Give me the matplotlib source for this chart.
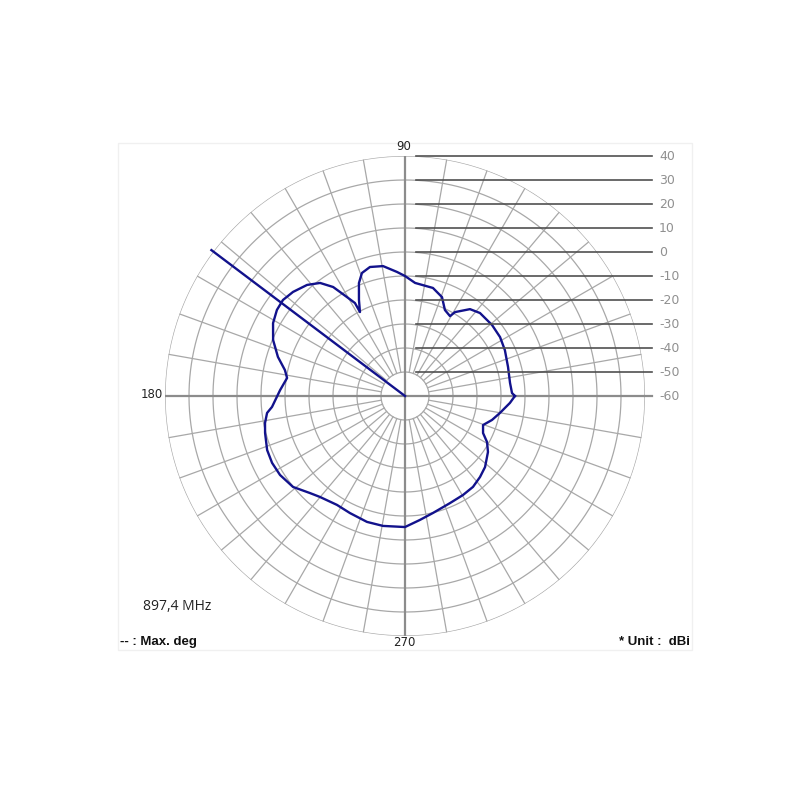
import numpy as np
import matplotlib
matplotlib.use("Agg")
import matplotlib.pyplot as plt

# antenna pattern, angle in degrees (0 = right, ccw) and gain in dBi
angles = [0, 1.6, 7.1, 15.7, 24.7, 31.8, 39.2, 47.9, 53.2, 59.2, 60.6, 65.1, 69.5,
          75.5, 84.9, 90, 93.7, 99.6, 105.2, 109.3, 112.2, 115.6, 118.2, 118.3, 120.4,
          123.4, 126.9, 131.4, 137.1, 141.8, 146.1, 151.1, 157.0, 162.9, 167.8, 171.3,
          177.3, 184.7, 187.0, 190.9, 194.8, 201.4, 206.7, 212.3, 219.1, 225.6, 229.9,
          238.0, 244.8, 253.2, 260.4, 270, 276.9, 283.5, 292.8, 300.4, 306.8, 312.8,
          318.4, 326.0, 330.7, 334.6, 339.6, 344.6, 349.9, 356.2, 360]
gain = [-14.2, -15.4, -15.9, -15.4, -14.2, -13.4, -13.2, -13.4, -14.8, -19.3, -21.8,
        -20.5, -16.0, -13.5, -12.7, -10.0, -8.2, -5.1, -4.3, -5.7, -9.2, -15.6, -20.3,
        -16.0, -12.2, -5.6, -1.1, 1.7, 3.7, 4.7, 4.3, 2.8, -0.3, -4.6, -8.8, -10.3,
        -7.9, -4.4, -2.1, -0.6, 0.3, 1.7, 2.0, 1.6, 0.1, -3.4, -5.0, -6.5, -6.1, -5.2,
        -5.1, -5.4, -8.0, -9.9, -11.6, -12.2, -12.7, -14.0, -15.4, -18.3, -20.8, -24.0,
        -25.3, -22.4, -19.8, -16.2, -14.2]
max_deg = 143
scale_levels = [40, 30, 20, 10, 0, -10, -20, -30, -40, -50, -60]
rmin, rmax = -60, 40

fig = plt.figure(figsize=(8, 8), dpi=100)
fig.patch.set_facecolor("white")

# faint frame of the original screenshot
frame = fig.add_axes([0, 0, 1, 1], zorder=0)
frame.set_xlim(0, 800)
frame.set_ylim(800, 0)
frame.axis("off")
frame.add_patch(plt.Rectangle((118, 143), 574, 507, fill=False, ec="#f0f0f0", lw=1))

# polar plot: center (405,396) px, radius 240 px
pos = [165 / 800, 164 / 800, 480 / 800, 480 / 800]
ax = fig.add_axes(pos, projection="polar", zorder=1)
ax.set_ylim(rmin, rmax)
ax.set_xticks([])
ax.set_yticks([])
ax.grid(False)
ax.spines["polar"].set_visible(False)
ax.patch.set_alpha(0)

grid_c = "#a8a8a8"
full = np.linspace(0, 2 * np.pi, 400)
for r in range(-50, 41, 10):
    ax.plot(full, np.full_like(full, r), color=grid_c, lw=0.9, zorder=1)
for a in range(0, 360, 10):
    if a % 90 == 0:
        continue
    t = np.deg2rad(a)
    ax.plot([t, t], [-50, 40], color=grid_c, lw=0.9, zorder=1)
for a in [0, 90, 180, 270]:
    t = np.deg2rad(a)
    ax.plot([t, t], [rmin, rmax], color="#8c8c8c", lw=1.6, zorder=2)

ax.plot(np.deg2rad(angles), gain, color="#12128c", lw=1.7, zorder=4)
ax.plot(np.deg2rad([max_deg, max_deg]), [rmin, 41], color="#12128c", lw=1.7,
        zorder=4, clip_on=False)

# horizontal scale lines on the right, overlay in pixel units around the center
ov = fig.add_axes(pos, zorder=2)
ov.set_xlim(-240, 240)
ov.set_ylim(-240, 240)
ov.axis("off")
ov.patch.set_alpha(0)
step = 240 / (rmax - rmin)
for lv in scale_levels:
    y = (lv - rmin) * step
    if lv == rmin:
        ov.plot([240, 247], [y, y], color="#8c8c8c", lw=1.6, clip_on=False)
    else:
        ov.plot([11, 247], [y, y], color="#505050", lw=1.2, clip_on=False)
    ov.text(254, y, str(lv), color="#909090", fontsize=9,
            family="DejaVu Sans", ha="left", va="center", clip_on=False)

fig.text(404 / 800, 1 - 146 / 800, "90", ha="center", va="center", fontsize=8.5,
         family="DejaVu Sans", color="#222222")
fig.text(163 / 800, 1 - 395 / 800, "180", ha="right", va="center", fontsize=8.5,
         family="DejaVu Sans", color="#222222")
fig.text(404 / 800, 1 - 643 / 800, "270", ha="center", va="center", fontsize=8.5,
         family="DejaVu Sans", color="#222222")
fig.text(143 / 800, 1 - 607 / 800, "897,4 MHz", ha="left", va="center", fontsize=10,
         family="Open Sans", color="#222222")
fig.text(120 / 800, 1 - 642 / 800, "-- : Max. deg", ha="left", va="center",
         fontsize=9.5, family="Liberation Sans", weight="bold", color="#111111")
fig.text(690 / 800, 1 - 642 / 800, "* Unit :  dBi", ha="right", va="center",
         fontsize=9.5, family="Liberation Sans", weight="bold", color="#111111")

fig.savefig("out.png", dpi=100, facecolor="white")
